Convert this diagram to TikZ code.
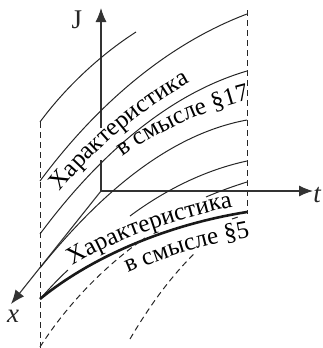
\documentclass[tikz,border=0pt]{standalone}
\usepackage{fontspec}
\setmainfont{Liberation Serif}
\usetikzlibrary{arrows.meta,decorations.text}

\newcommand{\labelfont}{\fontsize{25}{25}\selectfont}

\begin{document}
\begin{tikzpicture}[
  x=1pt, y=-1pt,
  curve/.style={line width=1pt, black!85},
  boldcurve/.style={line width=2.6pt, black!90},
  dashline/.style={line width=1pt, black!85, dash pattern=on 6pt off 4pt},
  axisline/.style={line width=1.1pt, black!80},
  arr/.style={axisline, -{Latex[length=14pt,width=11pt]}},
  lab/.style={font=\fontsize{27}{27}\selectfont, text=black!85, inner sep=0pt},
  curvetext/.style={decorate, decoration={text along path, text={|\labelfont|#1}}}
]
  \useasboundingbox (0,0) rectangle (322,348);

  \coordinate (orig) at (101,191);
  \coordinate (jgap1) at (101,160);
  \coordinate (jgap2) at (101,128);
  \coordinate (jtip) at (101,8);
  \coordinate (ttip) at (313,191);
  \coordinate (xtip) at (11,304);
  \coordinate (ltop) at (40,122);
  \coordinate (lbot) at (40,348);
  \coordinate (rtop) at (247,10);
  \coordinate (rbot) at (247,214);

  % bounds
  \draw[dashline] (ltop) -- (lbot);
  \draw[dashline] (rtop) -- (rbot);

  % axes
  \draw[axisline] (orig) -- (jgap1);
  \draw[arr] (jgap2) -- (jtip);
  \draw[arr] (orig) -- (ttip);
  \draw[arr] (orig) -- (xtip);
  \node[lab] (jlab) at (77,20) {J};
  \node[lab] (tlab) at (317,195) {\itshape t};
  \node[lab] (xlab) at (13,316) {\itshape x};

  % family
  \draw[curve] (ltop) .. controls (65,88) and (100,55) .. (136,32);
  \draw[curve] (40,181) .. controls (95,107) and (165,45) .. (247,14);
  \draw[curve] (40,234) .. controls (95,160) and (165,95) .. (247,71);
  \draw[curve] (40,268) .. controls (95,200) and (165,135) .. (247,120);
  \draw[curve] (40,299) .. controls (49,289) and (58,279) .. (68,270);
  \draw[curve] (130,216) .. controls (165,190) and (205,170) .. (247,161);
  \draw[curve] (206,197) .. controls (220,191) and (234,186) .. (247,182);
  \draw[boldcurve] (40,299) .. controls (90,258) and (165,225) .. (247,212);

  % dashed family
  \draw[dashline] (40,347) .. controls (70,300) and (110,262) .. (145,238);
  \draw[dashline] (130,339) .. controls (150,305) and (172,275) .. (196,252);
  \draw[dashline] (232,219) -- (238,217);

  % labels
  \path[curvetext={Характеристика}] (60,192) .. controls (95,148) and (150,102) .. (203,76);
  \path[curvetext={в смысле §17}] (123,157) .. controls (160,130) and (205,110) .. (255,98);
  \path[curvetext={Характеристика}] (73,266) .. controls (110,243) and (160,222) .. (245,204);
  \path[curvetext={в смысле §5}] (128,273) .. controls (160,259) and (205,244) .. (260,235);
\end{tikzpicture}
\end{document}
